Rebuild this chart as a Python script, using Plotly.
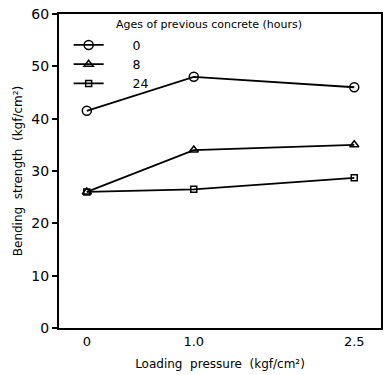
import plotly.graph_objects as go

pressure = [0, 1.0, 2.5]
age_labels = ["0", "8", "24"]
strength_0h = [41.5, 48.0, 46.0]
strength_8h = [26.0, 34.0, 35.0]
strength_24h = [26.0, 26.5, 28.7]

x_ticks = [0, 1.0, 2.5]
x_tick_text = ["0", "1.0", "2.5"]
y_ticks = [0, 10, 20, 30, 40, 50, 60]

FONT = "DejaVu Sans"
series = [
    (strength_0h, "circle-open", 9),
    (strength_8h, "triangle-up-open", 8),
    (strength_24h, "square-open", 6),
]

fig = go.Figure()
for (vals, sym, sz), lab in zip(series, age_labels):
    fig.add_trace(go.Scatter(
        x=pressure, y=vals, name="      " + lab, mode="lines+markers",
        line=dict(color="black", width=1.8),
        marker=dict(symbol=sym, size=sz, color="black", line=dict(width=1.5, color="black")),
    ))

fig.update_layout(
    width=389, height=375,
    margin=dict(l=59, r=6, t=11, b=45),
    paper_bgcolor="white", plot_bgcolor="white",
    font=dict(family=FONT, color="black", size=13),
    showlegend=True,
    legend=dict(x=0.03, y=0.948, xanchor="left", yanchor="top",
                bgcolor="rgba(0,0,0,0)", font=dict(size=12.5, family=FONT),
                itemwidth=30, tracegroupgap=0),
    xaxis=dict(range=[-0.26, 2.75], tickvals=x_ticks, ticktext=x_tick_text,
               showgrid=False, zeroline=False, showline=True, linecolor="black",
               linewidth=2, mirror=True, ticks="", tickfont=dict(size=13),
               title=dict(text="Loading  pressure  (kgf/cm²)", font=dict(size=12), standoff=12)),
    yaxis=dict(range=[0, 60], tickvals=y_ticks, showgrid=False, zeroline=False,
               showline=True, linecolor="black", linewidth=2, mirror=True,
               ticks="outside", ticklen=5, tickwidth=1.5, tickcolor="black",
               tickfont=dict(size=14),
               title=dict(text="Bending  strength  (kgf/cm²)", font=dict(size=12), standoff=6)),
    annotations=[dict(text="Ages of previous concrete (hours)", xref="paper", yref="paper",
                      x=0.17, y=0.968, xanchor="left", yanchor="middle", showarrow=False,
                      font=dict(size=11, family=FONT))],
)

fig.write_html("out.html")
